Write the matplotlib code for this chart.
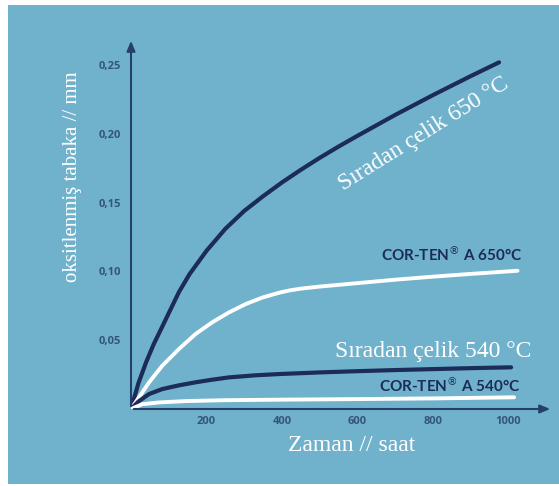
import matplotlib.pyplot as plt
from matplotlib.patches import Rectangle

# okunan veriler (zaman // saat, oksit kalinligi // mm)
x_celik_650 = [0, 20, 40, 60, 83, 105, 127, 155, 200, 250, 300, 350, 400, 450, 500, 550, 600,
               700, 800, 900, 975]
y_celik_650 = [0, 0.019, 0.034, 0.047, 0.060, 0.0725, 0.085, 0.098, 0.115, 0.131, 0.144, 0.1547,
               0.1647, 0.1739, 0.1826, 0.1908, 0.1986, 0.2138, 0.2282, 0.2420, 0.252]

x_corten_650 = [0, 25, 48, 83, 127, 171, 215, 260, 304, 348, 392, 420, 450, 500, 600, 700, 800,
                900, 1024]
y_corten_650 = [0, 0.010, 0.0194, 0.0315, 0.0436, 0.0545, 0.063, 0.0703, 0.0763, 0.081, 0.0845,
                0.0862, 0.0875, 0.089, 0.0915, 0.094, 0.0962, 0.0982, 0.1005]

x_celik_540 = [0, 20, 48, 83, 127, 171, 215, 260, 330, 392, 500, 600, 700, 800, 900, 1007]
y_celik_540 = [0, 0.0055, 0.0109, 0.0145, 0.0172, 0.0194, 0.0213, 0.023, 0.0245, 0.0254, 0.0266,
               0.0275, 0.0283, 0.029, 0.0297, 0.0303]

x_corten_540 = [0, 30, 75, 150, 250, 400, 600, 800, 1015]
y_corten_540 = [0, 0.0035, 0.0048, 0.0058, 0.0064, 0.0068, 0.0072, 0.0077, 0.0085]

x_ticks = [200, 400, 600, 800, 1000]
y_ticks = [0.05, 0.10, 0.15, 0.20, 0.25]
y_tick_labels = ["0,05", "0,10", "0,15", "0,20", "0,25"]

W, H = 559, 486
bg = "#70b2cc"
navy = "#1c2b58"
axis_col = "#24406a"
tick_col = "#34557a"

fig = plt.figure(figsize=(W / 100, H / 100), dpi=100)
fig.patch.set_facecolor("white")
fig.patches.append(Rectangle((8 / W, 2 / H), 1 - 8 / W, 1 - 7 / H, transform=fig.transFigure,
                             facecolor=bg, edgecolor="none", zorder=-5))

ax = fig.add_axes([131 / W, (H - 409) / H, (553 - 131) / W, (409 - 38) / H])
ax.set_facecolor("none")
ax.set_zorder(2)
ax.set_xlim(0, 1118)
ax.set_ylim(0, 0.2697)
for s in ax.spines.values():
    s.set_visible(False)

# eksen oklari
ax.annotate("", xy=(1, 0), xytext=(0, 0), xycoords="axes fraction",
            arrowprops=dict(arrowstyle="-|>,head_width=0.25,head_length=0.6", color=axis_col, lw=1.5))
ax.annotate("", xy=(0, 1), xytext=(0, 0), xycoords="axes fraction",
            arrowprops=dict(arrowstyle="-|>,head_width=0.25,head_length=0.6", color=axis_col, lw=1.5))

ax.set_xticks(x_ticks)
ax.set_xticklabels([str(v) for v in x_ticks])
ax.set_yticks(y_ticks)
ax.set_yticklabels(y_tick_labels)
ax.tick_params(length=0, colors=tick_col, labelsize=8)
ax.tick_params(axis="y", pad=7)
ax.tick_params(axis="x", pad=5)
for lab in ax.get_xticklabels() + ax.get_yticklabels():
    lab.set_fontweight("bold")
    lab.set_family("Open Sans")

# egriler
ax.plot(x_celik_650, y_celik_650, color=navy, lw=3, solid_capstyle="round", solid_joinstyle="round")
ax.plot(x_corten_650, y_corten_650, color="white", lw=2.8, solid_capstyle="round", solid_joinstyle="round")
ax.plot(x_celik_540, y_celik_540, color=navy, lw=3, solid_capstyle="round", solid_joinstyle="round")
ax.plot(x_corten_540, y_corten_540, color="white", lw=2.8, solid_capstyle="round", solid_joinstyle="round")

serif = "Liberation Serif"
ax.text(776, 0.200, "Sıradan çelik 650 °C", rotation=32, ha="center", va="center",
        color="white", fontsize=17, family=serif, rotation_mode="anchor")
ax.text(1060, 0.042, "Sıradan çelik 540 °C", ha="right", va="center",
        color="white", fontsize=17, family=serif)
ax.text(1038, 0.1126, "COR-TEN$^{\\circledR}$ A 650°C", ha="right", va="center",
        color=navy, fontsize=11, fontweight="bold", family="Lato")
ax.text(1033, 0.0171, "COR-TEN$^{\\circledR}$ A 540°C", ha="right", va="center",
        color=navy, fontsize=11, fontweight="bold", family="Lato")

fig.text(73 / W, 1 - 177 / H, "oksitlenmiş tabaka // mm", rotation=90, ha="center", va="center",
         color="white", fontsize=15, family=serif)
fig.text(352 / W, 1 - 445 / H, "Zaman // saat", ha="center", va="center",
         color="white", fontsize=17, family=serif)

fig.savefig("out.png", dpi=100)
